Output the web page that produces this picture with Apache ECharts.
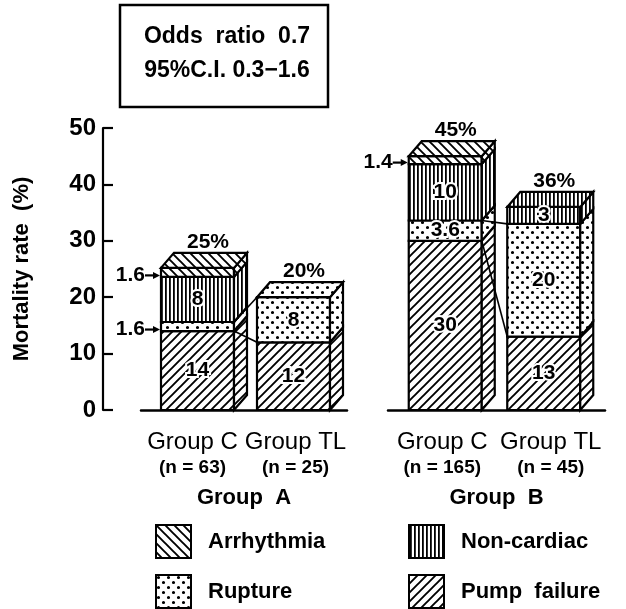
<!DOCTYPE html>
<html>
<head>
<meta charset="utf-8">
<script src="https://cdn.jsdelivr.net/npm/echarts@6/dist/echarts.min.js"></script>
<style>html,body{margin:0;padding:0;background:#fff;}#chart{width:626px;height:609px;}</style>
</head>
<body>
<div id="chart"></div>
<script>
// ---------------- data ----------------
const categories = ['Group C', 'Group TL'];
const groupNames = ['Group A', 'Group B'];
const nCounts = [63, 25, 165, 45];          // bars: A-C, A-TL, B-C, B-TL
const pumpFailure = [14, 12, 30, 13];
const rupture = [1.6, 8, 3.6, 20];
const nonCardiac = [8, 0, 10, 3];
const arrhythmia = [1.6, 0, 1.4, 0];
const totals = [25, 20, 45, 36];
const yMin = 0, yMax = 50, yInterval = 10;
const oddsText = ['Odds  ratio  0.7', '95%C.I. 0.3\u22121.6'];

// ---------------- layout / style ----------------
const FONT = 'Liberation Sans, Arial, Helvetica, sans-serif';
const W = 73, DX = 13, DY = 15;
const barShift = [5, -2, 3, -7];

function makePattern(kind) {
  const c = document.createElement('canvas');
  let s = 9;
  if (kind === 'vert') s = 4;
  if (kind === 'dots') s = 10;
  c.width = s; c.height = s;
  const ctx = c.getContext('2d');
  ctx.fillStyle = '#fff'; ctx.fillRect(0, 0, s, s);
  ctx.strokeStyle = '#000'; ctx.fillStyle = '#000'; ctx.lineWidth = 1.9;
  ctx.beginPath();
  if (kind === 'fwd') {
    ctx.moveTo(0, s); ctx.lineTo(s, 0);
    ctx.moveTo(-2, 2); ctx.lineTo(2, -2);
    ctx.moveTo(s - 2, s + 2); ctx.lineTo(s + 2, s - 2);
    ctx.stroke();
  } else if (kind === 'back') {
    ctx.moveTo(0, 0); ctx.lineTo(s, s);
    ctx.moveTo(-2, s - 2); ctx.lineTo(2, s + 2);
    ctx.moveTo(s - 2, -2); ctx.lineTo(s + 2, 2);
    ctx.stroke();
  } else if (kind === 'vert') {
    ctx.fillRect(1, 0, 1.8, s);
  } else if (kind === 'dots') {
    ctx.arc(2.5, 2.5, 1.6, 0, Math.PI * 2);
    ctx.moveTo(7.5 + 1.6, 7.5);
    ctx.arc(7.5, 7.5, 1.6, 0, Math.PI * 2);
    ctx.fill();
  }
  return { image: c, repeat: 'repeat' };
}

const causes = [
  { name: 'Pump failure', values: pumpFailure, pattern: makePattern('fwd') },
  { name: 'Rupture', values: rupture, pattern: makePattern('dots') },
  { name: 'Non-cardiac', values: nonCardiac, pattern: makePattern('vert') },
  { name: 'Arrhythmia', values: arrhythmia, pattern: makePattern('back') }
];

function baseOf(ci, bar) {
  let b = 0;
  for (let k = 0; k < ci; k++) b += causes[k].values[bar];
  return b;
}
function isTop(ci, bar) {
  if (causes[ci].values[bar] <= 0) return false;
  for (let k = ci + 1; k < causes.length; k++) if (causes[k].values[bar] > 0) return false;
  return true;
}

function makeRender(ci) {
  const cause = causes[ci];
  return function (params, api) {
    const cat = api.value(0), base = api.value(1), val = api.value(2), bar = api.value(3);
    const children = [];
    if (val > 0) {
      const p0 = api.coord([cat, base]);
      const p1 = api.coord([cat, base + val]);
      const cx = p0[0] + barShift[bar];
      const L = cx - W / 2, R = cx + W / 2, yb = p0[1], yt = p1[1];
      const st = { fill: cause.pattern, stroke: '#000', lineWidth: 2.2, lineJoin: 'miter' };
      children.push({ type: 'rect', shape: { x: L, y: yt, width: W, height: yb - yt }, style: st });
      children.push({ type: 'polygon', shape: { points: [[R, yb], [R + DX, yb - DY], [R + DX, yt - DY], [R, yt]] }, style: st });
      if (isTop(ci, bar)) {
        children.push({ type: 'polygon', shape: { points: [[L, yt], [L + DX, yt - DY], [R + DX, yt - DY], [R, yt]] }, style: st });
        children.push({ type: 'text', z2: 50, style: { text: totals[bar] + '%', x: (L + R + DX) / 2 + 4, y: yt - DY - 11,
          align: 'center', verticalAlign: 'middle', font: 'bold 21px ' + FONT, fill: '#000' } });
      }
      if (val >= 3) {
        children.push({ type: 'text', z2: 50, style: { text: String(val), x: cx, y: (yt + yb) / 2,
          align: 'center', verticalAlign: 'middle', font: 'bold 21px ' + FONT, fill: '#000',
          stroke: '#fff', lineWidth: 4 } });
      } else {
        const ay = yb - 1.5;
        children.push({ type: 'text', z2: 50, style: { text: String(val), x: L - 16, y: ay,
          align: 'right', verticalAlign: 'middle', font: 'bold 21px ' + FONT, fill: '#000' } });
        children.push({ type: 'line', z2: 50, shape: { x1: L - 16, y1: ay, x2: L - 6, y2: ay }, style: { stroke: '#000', lineWidth: 2.2 } });
        children.push({ type: 'polygon', z2: 50, shape: { points: [[L - 1, ay], [L - 8, ay - 3.5], [L - 8, ay + 3.5]] }, style: { fill: '#000' } });
      }
      // connecting lines between the two bars of a group
      if (ci < 2 && cat === 0) {
        const other = bar + 1;
        const q = api.coord([1, baseOf(ci, other) + causes[ci].values[other]]);
        const L2 = q[0] + barShift[other] - W / 2;
        children.push({ type: 'line', z2: 40, shape: { x1: R, y1: yt, x2: L2, y2: q[1] }, style: { stroke: '#000', lineWidth: 1.6 } });
      }
    }
    return { type: 'group', children: children };
  };
}

const series = [];
for (let g = 0; g < 2; g++) {
  causes.forEach(function (cause, ci) {
    const data = [];
    for (let c = 0; c < 2; c++) {
      const bar = g * 2 + c;
      data.push([c, baseOf(ci, bar), cause.values[bar], bar]);
    }
    series.push({
      type: 'custom', name: cause.name, xAxisIndex: g, yAxisIndex: g,
      clip: false, renderItem: makeRender(ci), encode: { x: 0, y: 1 },
      itemStyle: { color: cause.pattern, borderColor: '#000', borderWidth: 2 },
      data: data, silent: true
    });
  });
}

function patternOf(name) { return causes.find(c => c.name === name).pattern; }
function legend(left, names) {
  return {
    type: 'plain', orient: 'vertical', left: left, top: 524, width: 220, height: 100,
    padding: 0, itemWidth: 35, itemHeight: 33, itemGap: 15,
    selectedMode: false, icon: 'rect',
    formatter: n => n === 'Pump failure' ? 'Pump  failure' : n,
    textStyle: { fontFamily: FONT, fontWeight: 'bold', fontSize: 22, color: '#000', padding: [0, 0, 0, 12] },
    data: names.map(n => ({ name: n, icon: 'rect', itemStyle: { color: patternOf(n), borderColor: '#000', borderWidth: 2 } }))
  };
}

const gridsPx = [{ left: 141, width: 206 }, { left: 388, width: 217 }];

const option = {
  animation: false,
  backgroundColor: '#fff',
  grid: gridsPx.map(gp => ({ left: gp.left, width: gp.width, top: 128, height: 282 })),
  xAxis: [0, 1].map(g => ({
    type: 'category', gridIndex: g, data: categories,
    axisLine: { show: true, lineStyle: { color: '#000', width: 2.5 } },
    axisTick: { show: false },
    axisLabel: {
      margin: 19, interval: 0,
      formatter: (v, i) => '{a|' + v + '}\n{b|(n = ' + nCounts[g * 2 + i] + ')}',
      rich: {
        a: { fontFamily: FONT, fontSize: 24, color: '#000', lineHeight: 26 },
        b: { fontFamily: FONT, fontSize: 19, fontWeight: 'bold', color: '#000', lineHeight: 26 }
      }
    },
    name: groupNames[g].replace(' ', '  '), nameLocation: 'middle', nameGap: 77,
    nameTextStyle: { fontFamily: FONT, fontSize: 22, fontWeight: 'bold', color: '#000' }
  })),
  yAxis: [0, 1].map(g => ({
    type: 'value', gridIndex: g, min: yMin, max: yMax, interval: yInterval,
    show: g === 0, offset: 38,
    axisLine: { show: true, lineStyle: { color: '#000', width: 2.2 } },
    axisTick: { show: true, inside: true, length: 10, lineStyle: { color: '#000', width: 2.2 } },
    splitLine: { show: false },
    axisLabel: { margin: 7, fontFamily: FONT, fontSize: 24, fontWeight: 'bold', color: '#000' },
    name: 'Mortality rate  (%)', nameLocation: 'middle', nameGap: 70,
    nameTextStyle: { fontFamily: FONT, fontSize: 22, fontWeight: 'bold', color: '#000' }
  })),
  legend: [legend(155, ['Arrhythmia', 'Rupture']), legend(408, ['Non-cardiac', 'Pump failure'])],
  graphic: [
    { type: 'rect', shape: { x: 120, y: 5, width: 208, height: 102 }, style: { fill: '#fff', stroke: '#000', lineWidth: 2.5 } },
    { type: 'text', style: { text: oddsText[0], x: 227, y: 37, align: 'center', verticalAlign: 'middle', font: 'bold 23px ' + FONT, fill: '#000' } },
    { type: 'text', style: { text: oddsText[1], x: 227, y: 71, align: 'center', verticalAlign: 'middle', font: 'bold 23px ' + FONT, fill: '#000' } }
  ],
  series: series
};

const chart = echarts.init(document.getElementById('chart'), null, { renderer: 'canvas' });
chart.setOption(option);
</script>
</body>
</html>
